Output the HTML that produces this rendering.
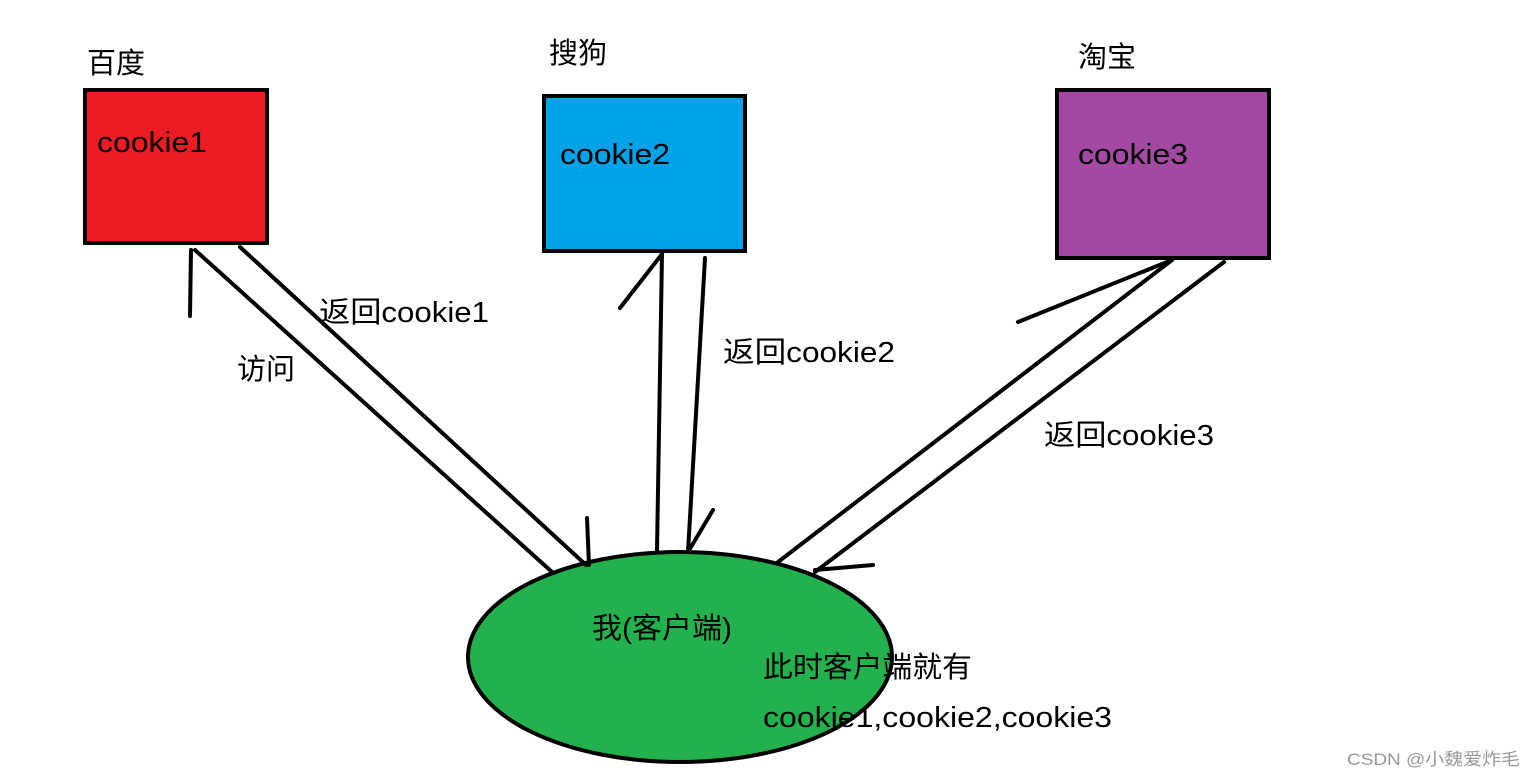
<!DOCTYPE html>
<html><head><meta charset="utf-8"><style>
html,body{margin:0;padding:0;background:#fff;}
svg{display:block;}
text{font-family:"Liberation Sans","Noto Sans CJK SC",sans-serif;fill:#000;}
</style></head><body>
<svg width="1536" height="778" viewBox="0 0 1536 778" xmlns="http://www.w3.org/2000/svg">
<rect x="0" y="0" width="1536" height="778" fill="#fff"/>
<rect x="85" y="90" width="182" height="153" fill="#ED1C24" stroke="#000" stroke-width="4"/>
<rect x="544" y="96" width="201" height="155" fill="#00A2E8" stroke="#000" stroke-width="4"/>
<rect x="1057" y="90" width="212" height="168" fill="#A349A4" stroke="#000" stroke-width="4"/>
<ellipse cx="680" cy="657" rx="212" ry="105" fill="#22B14C" stroke="#000" stroke-width="4"/>
<g stroke="#000" stroke-width="4" stroke-linecap="round" fill="none">
<line x1="195" y1="250" x2="552" y2="572"/>
<line x1="240" y1="247" x2="586" y2="565"/>
<line x1="191" y1="250" x2="190" y2="316"/>
<line x1="587" y1="518" x2="589" y2="565"/>
<line x1="662" y1="254" x2="657" y2="550"/>
<line x1="705" y1="258" x2="688" y2="552"/>
<line x1="662" y1="254" x2="620" y2="308"/>
<line x1="688" y1="552" x2="713" y2="510"/>
<line x1="1172" y1="260" x2="778" y2="562"/>
<line x1="1224" y1="262" x2="815" y2="572"/>
<line x1="1172" y1="260" x2="1018" y2="322"/>
<line x1="815" y1="570" x2="873" y2="565"/>
</g>
<g font-size="29" lengthAdjust="spacingAndGlyphs">
<text x="87" y="73">百度</text>
<text x="549" y="63">搜狗</text>
<text x="1078" y="67">淘宝</text>
<text x="97" y="152" textLength="110" lengthAdjust="spacingAndGlyphs">cookie1</text>
<text x="560" y="164" textLength="110" lengthAdjust="spacingAndGlyphs">cookie2</text>
<text x="1078" y="164" textLength="110" lengthAdjust="spacingAndGlyphs">cookie3</text>
<text x="319" y="322" textLength="170" lengthAdjust="spacingAndGlyphs">返回cookie1</text>
<text x="237" y="379">访问</text>
<text x="723" y="362" textLength="172" lengthAdjust="spacingAndGlyphs">返回cookie2</text>
<text x="1044" y="445" textLength="170" lengthAdjust="spacingAndGlyphs">返回cookie3</text>
<text x="592" y="638" textLength="140" lengthAdjust="spacingAndGlyphs">我(客户端)</text>
<text x="763" y="677" textLength="209" lengthAdjust="spacingAndGlyphs">此时客户端就有</text>
<text x="763" y="727" textLength="349" lengthAdjust="spacingAndGlyphs">cookie1,cookie2,cookie3</text>
</g>
<text x="1347" y="765" font-size="17" textLength="173" lengthAdjust="spacingAndGlyphs" style="fill:#999">CSDN @小魏爱炸毛</text>
</svg>
</body></html>
